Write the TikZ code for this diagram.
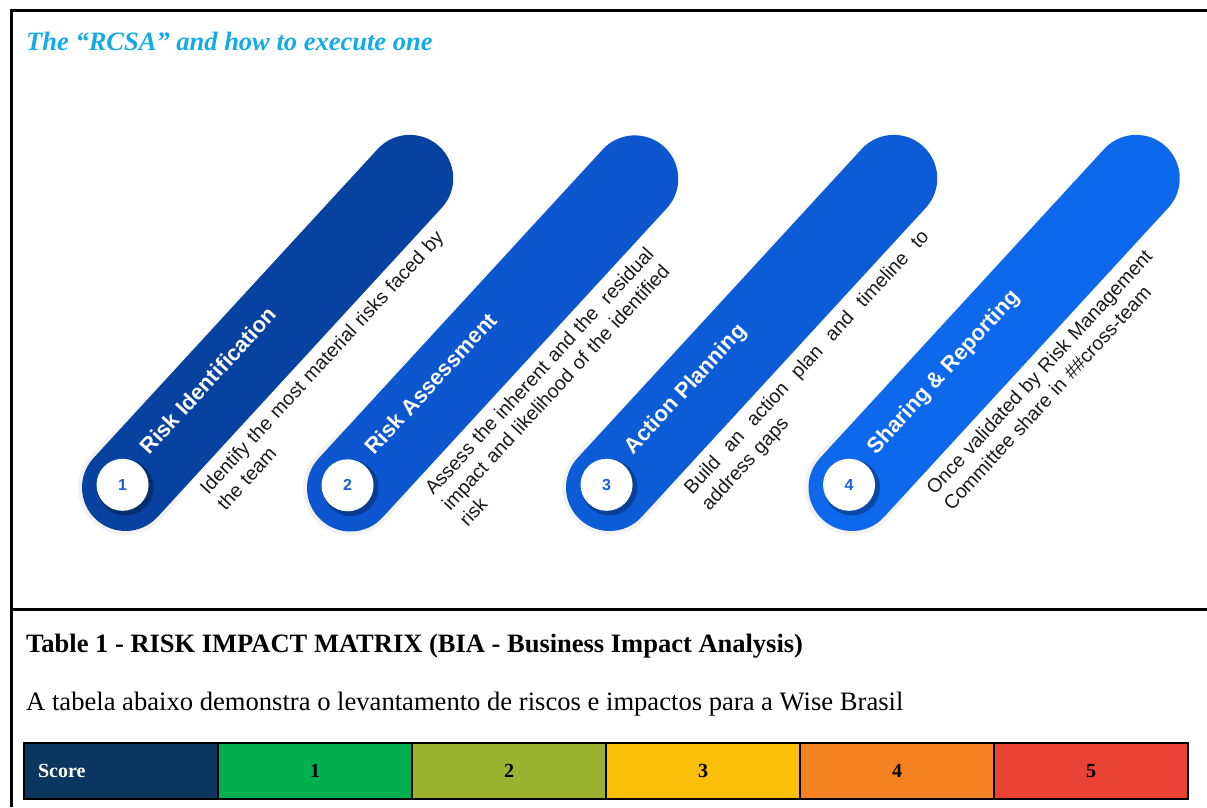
\documentclass[tikz,border=0pt]{standalone}
\usepackage{fontspec}
\setmainfont{Liberation Serif}
\newfontfamily\pillfont{Liberation Sans}
\usepackage{tikz}
\usetikzlibrary{positioning}
\definecolor{headblue}{RGB}{20,170,232}
\definecolor{pillA}{RGB}{8,66,160}
\definecolor{pillB}{RGB}{12,86,208}
\definecolor{pillC}{RGB}{12,92,216}
\definecolor{pillD}{RGB}{14,104,236}
\definecolor{numblue}{RGB}{30,96,218}
\definecolor{scorenavy}{RGB}{11,54,96}
\definecolor{lvlone}{RGB}{0,176,80}
\definecolor{lvltwo}{RGB}{155,179,47}
\definecolor{lvlthree}{RGB}{251,191,10}
\definecolor{lvlfour}{RGB}{244,130,32}
\definecolor{lvlfive}{RGB}{234,67,53}
\tikzstyle{framerule} = [line width=3pt, black]
\tikzstyle{pill} = [line width=87pt, line cap=round]
\tikzstyle{pillhalo} = [line width=95pt, line cap=round, black, opacity=0.05]
\tikzstyle{numshade} = [circle, fill=black, opacity=0.3, minimum size=56pt, inner sep=0pt]
\tikzstyle{numdisc} = [circle, fill=white, minimum size=52pt, inner sep=0pt, text=numblue, font=\pillfont\bfseries\fontsize{16}{16}\selectfont]
\tikzstyle{pilltitle} = [anchor=base west, inner sep=0pt, text=white, font=\pillfont\bfseries\fontsize{22}{22}\selectfont, transform shape]
\tikzstyle{pilltext} = [anchor=north west, inner sep=0pt, text width=355pt, align=left, text=black!90, font=\pillfont\fontsize{19.5}{23.5}\selectfont, transform shape]
\tikzstyle{heading} = [anchor=base west, inner sep=0pt]
\tikzstyle{cell} = [rectangle, draw=black, line width=2.5pt, minimum width=194pt, minimum height=56pt, outer sep=0pt, inner sep=0pt, font=\bfseries\fontsize{20}{20}\selectfont]
\tikzstyle{scorecell} = [cell, text width=166pt, inner xsep=14pt, align=left, text=white, fill=scorenavy]

\begin{document}
\begin{tikzpicture}[x=1pt, y=-1pt]
	\useasboundingbox (0,0) rectangle (1207,807);
	\draw[framerule] (11.5,807) -- (11.5,10) -- (1207,10);
	\draw[framerule] (11.5,609) -- (1207,609);
	\node[heading, text=headblue, font=\bfseries\itshape\fontsize{26.5}{26.5}\selectfont] (rcsa) at (26,50) {The “RCSA” and how to execute one};

	\begin{scope}[shift={(125.5,487.5)}, rotate=47.4]
		\coordinate (capA) at (0,0);
		\coordinate (endA) at (420,0);
		\draw[pillhalo] (capA) -- ++(20,0);
		\draw[pill, pillA] (capA) -- (endA);
		\node[numshade] (shadeA) at (capA) {};
		\node[numdisc] (numA) at (0,-4) {1};
		\node[pilltitle] (titleA) at (40,-4) {Risk Identification};
		\node[pilltext] (textA) at (50,52) {Identify the most material risks faced by\\the team};
	\end{scope}

	\begin{scope}[shift={(350.5,488)}, rotate=47.4]
		\coordinate (capB) at (0,0);
		\coordinate (endB) at (420,0);
		\draw[pillhalo] (capB) -- ++(20,0);
		\draw[pill, pillB] (capB) -- (endB);
		\node[numshade] (shadeB) at (capB) {};
		\node[numdisc] (numB) at (0,-4) {2};
		\node[pilltitle] (titleB) at (40,-4) {Risk Assessment};
		\node[pilltext] (textB) at (50,52) {Assess the inherent and the\ \ residual\\impact and likelihood of the identified\\risk};
	\end{scope}

	\begin{scope}[shift={(609.5,487.5)}, rotate=47.4]
		\coordinate (capC) at (0,0);
		\coordinate (endC) at (420,0);
		\draw[pillhalo] (capC) -- ++(20,0);
		\draw[pill, pillC] (capC) -- (endC);
		\node[numshade] (shadeC) at (capC) {};
		\node[numdisc] (numC) at (0,-4) {3};
		\node[pilltitle] (titleC) at (40,-4) {Action Planning};
		\node[pilltext, text width=351pt] (textC) at (50,52) {Build\hfill an\hfill action\hfill plan\hfill and\hfill timeline\hfill to\\address gaps};
	\end{scope}

	\begin{scope}[shift={(852,487.5)}, rotate=47.4]
		\coordinate (capD) at (0,0);
		\coordinate (endD) at (420,0);
		\draw[pillhalo] (capD) -- ++(20,0);
		\draw[pill, pillD] (capD) -- (endD);
		\node[numshade] (shadeD) at (capD) {};
		\node[numdisc] (numD) at (0,-4) {4};
		\node[pilltitle] (titleD) at (40,-4) {Sharing \& Reporting};
		\node[pilltext] (textD) at (50,52) {Once validated by Risk Management\\Committee share in \#\#cross-team};
	\end{scope}

	\node[heading, font=\bfseries\fontsize{26.5}{26.5}\selectfont] (tabtitle) at (26,652) {Table 1 - RISK IMPACT MATRIX (BIA - Business Impact Analysis)};
	\node[heading, font=\fontsize{26.6}{26.6}\selectfont] (tabnote) at (26,710) {A tabela abaixo demonstra o levantamento de riscos e impactos para a Wise Brasil};

	\node[scorecell, anchor=north west] (score) at (24,743) {Score};
	\node[cell, fill=lvlone, right=0pt of score] (lvl1) {1};
	\node[cell, fill=lvltwo, right=0pt of lvl1] (lvl2) {2};
	\node[cell, fill=lvlthree, right=0pt of lvl2] (lvl3) {3};
	\node[cell, fill=lvlfour, right=0pt of lvl3] (lvl4) {4};
	\node[cell, fill=lvlfive, right=0pt of lvl4] (lvl5) {5};
\end{tikzpicture}
\end{document}
